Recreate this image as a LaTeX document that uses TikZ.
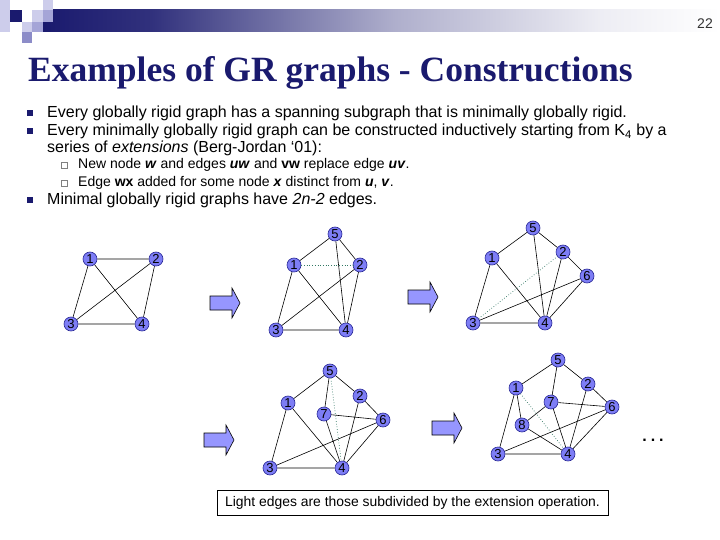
\documentclass[tikz,border=0pt]{standalone}
\usepackage{fontspec}
\setmainfont{Liberation Sans}
\newfontfamily\titlefont{Liberation Serif}
\definecolor{navy}{RGB}{26,26,110}
\definecolor{nodefill}{RGB}{125,125,245}
\definecolor{nodeedge}{RGB}{40,40,150}
\definecolor{arrowfill}{RGB}{150,150,255}
\definecolor{lightedge}{RGB}{50,120,100}
\definecolor{decoLight}{RGB}{205,205,235}
\definecolor{decoMid}{RGB}{165,165,215}
\definecolor{decoDark}{RGB}{140,140,200}
\pgfdeclarehorizontalshading{barshade}{100bp}{color(0bp)=(navy); color(25bp)=(navy); color(33bp)=(navy!90!white); color(41bp)=(navy!65!white); color(51bp)=(navy!35!white); color(66bp)=(navy!8!white); color(75bp)=(white); color(100bp)=(white)}
\begin{document}
\begin{tikzpicture}[x=1pt,y=-1pt,
  gnode/.style={circle,draw=nodeedge,fill=nodefill,line width=0.6pt,minimum size=14pt,inner sep=0pt,font=\fontsize{13}{13}\selectfont},
  gedge/.style={draw=black,line width=0.6pt},
  ledge/.style={draw=lightedge,dotted,line width=0.7pt},
  arrowbox/.style={draw=black,fill=arrowfill,line width=0.6pt},
  bul/.style={fill=navy,minimum size=6pt,inner sep=0pt},
  subbul/.style={draw=gray,line width=0.5pt,minimum size=6pt,inner sep=0pt},
  txt/.style={anchor=base west,inner sep=0pt,font=\fontsize{16}{18}\selectfont},
  subtxt/.style={anchor=base west,inner sep=0pt,font=\fontsize{14}{15}\selectfont},
  bigarrow/.pic={\path[arrowbox] (0,-7)--(22,-7)--(22,-15)--(30,0)--(22,15)--(22,7)--(0,7)--cycle;}]
\useasboundingbox (0,0) rectangle (720,540);
\fill[white] (0,0) rectangle (720,540);
% header
\shade[shading=barshade] (43,10) rectangle (720,32);
\fill[decoLight] (0,0) rectangle (10,32);
\fill[navy] (10,10) rectangle (22,22);
\fill[decoLight] (32,10) rectangle (43,22);
\fill[decoLight] (43,0) rectangle (53,10);
\fill[decoMid] (43,10) rectangle (53,22);
\fill[decoLight] (22,22) rectangle (32,32);
\fill[decoMid] (32,22) rectangle (43,32);
\fill[decoDark] (22,32) rectangle (32,43);
\node[anchor=base east,inner sep=0pt,text=black!80,font=\fontsize{14}{14}\selectfont] (pg) at (713,29) {22};
\node[anchor=base west,inner sep=0pt,text=navy,font=\titlefont\bfseries\fontsize{35.5}{38}\selectfont] (title) at (28,82) {Examples of GR graphs - Constructions};
% bullets
\node[bul] (b1) at (30,113) {};
\node[bul] (b2) at (30,131) {};
\node[bul] (b4) at (30,200) {};
\node[subbul] (s1) at (64,165) {};
\node[subbul] (s2) at (64,183) {};
\node[txt] (t1) at (47,118) {Every globally rigid graph has a spanning subgraph that is minimally globally rigid.};
\node[txt] (t2) at (47,136) {Every minimally globally rigid graph can be constructed inductively starting from K\textsubscript{4} by a};
\node[txt] (t3) at (47,153) {series of \textit{extensions} (Berg-Jordan ‘01):};
\node[subtxt] (t4) at (78,169) {New node \textbf{\textit{w}} and edges \textbf{\textit{uw}} and \textbf{vw} replace edge \textbf{\textit{uv}}.};
\node[subtxt] (t5) at (78,187) {Edge \textbf{wx} added for some node \textbf{\textit{x}} distinct from \textbf{\textit{u}}, \textbf{\textit{v}}.};
\node[txt] (t6) at (47,205) {Minimal globally rigid graphs have \textit{2n-2} edges.};
% arrows
\pic at (210,303) {bigarrow};
\pic at (408,297) {bigarrow};
\pic at (204,440) {bigarrow};
\pic at (432,428) {bigarrow};
% graph 1
\node[gnode] (a1) at (90,259) {1};
\node[gnode] (a2) at (156,259) {2};
\node[gnode] (a3) at (71,324) {3};
\node[gnode] (a4) at (142,324) {4};
\path[gedge] (a1)--(a2) (a1)--(a3) (a1)--(a4) (a2)--(a3) (a2)--(a4) (a3)--(a4);
% graph 2
\node[gnode] (g2n5) at (335,234) {5};
\node[gnode] (g2n1) at (294,265) {1};
\node[gnode] (g2n2) at (360,265) {2};
\node[gnode] (g2n3) at (276,330) {3};
\node[gnode] (g2n4) at (346,330) {4};
\path[gedge] (g2n5)--(g2n1) (g2n5)--(g2n2) (g2n5)--(g2n4) (g2n1)--(g2n3) (g2n1)--(g2n4) (g2n2)--(g2n3) (g2n2)--(g2n4) (g2n3)--(g2n4);
\path[ledge] (g2n1)--(g2n2);
% graph 3
\node[gnode] (c5) at (533,228) {5};
\node[gnode] (c1) at (492,258) {1};
\node[gnode] (c2) at (563,252) {2};
\node[gnode] (c6) at (587,276) {6};
\node[gnode] (c3) at (473,323) {3};
\node[gnode] (c4) at (545,323) {4};
\path[gedge] (c5)--(c1) (c5)--(c2) (c5)--(c4) (c1)--(c3) (c1)--(c4) (c2)--(c4) (c2)--(c6) (c6)--(c3) (c6)--(c4) (c3)--(c4);
\path[ledge] (c3)--(c2);
% graph 4
\node[gnode] (d5) at (330,371) {5};
\node[gnode] (d1) at (288,403) {1};
\node[gnode] (d2) at (360,396) {2};
\node[gnode] (d7) at (324,414) {7};
\node[gnode] (d6) at (383,420) {6};
\node[gnode] (d3) at (270,468) {3};
\node[gnode] (d4) at (342,468) {4};
\path[gedge] (d5)--(d1) (d5)--(d2) (d5)--(d7) (d1)--(d3) (d1)--(d4) (d2)--(d6) (d2)--(d4) (d7)--(d6) (d7)--(d4) (d6)--(d3) (d6)--(d4) (d3)--(d4);
\path[ledge] (d5)--(d4);
% graph 5
\node[gnode] (e5) at (558,360) {5};
\node[gnode] (e1) at (516,388) {1};
\node[gnode] (e2) at (588,384) {2};
\node[gnode] (e7) at (551,402) {7};
\node[gnode] (e6) at (612,407) {6};
\node[gnode] (e8) at (522,425) {8};
\node[gnode] (e3) at (498,454) {3};
\node[gnode] (e4) at (568,454) {4};
\path[gedge] (e5)--(e1) (e5)--(e7) (e5)--(e2) (e1)--(e3) (e1)--(e8) (e7)--(e8) (e7)--(e6) (e7)--(e4) (e8)--(e4) (e2)--(e6) (e2)--(e4) (e6)--(e3) (e6)--(e4) (e3)--(e4);
\path[ledge] (e1)--(e4);
\node[inner sep=0pt,font=\bfseries\fontsize{16}{16}\selectfont] (dots) at (653,440) {.\hspace{4pt}.\hspace{4pt}.};
% note box
\node[draw,line width=0.6pt,minimum width=391pt,minimum height=25pt,inner sep=0pt,font=\fontsize{13.9}{15}\selectfont] (note) at (412.5,502.5) {Light edges are those subdivided by the extension operation.};
\end{tikzpicture}
\end{document}
